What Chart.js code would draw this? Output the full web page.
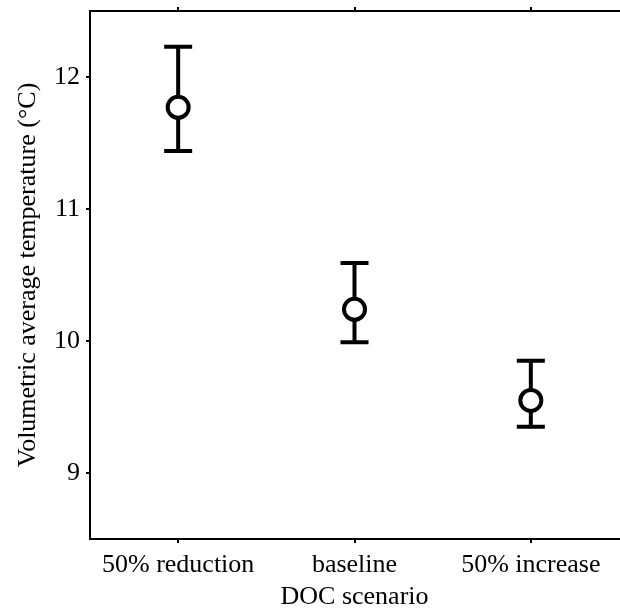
<!DOCTYPE html>
<html>
<head>
<meta charset="utf-8">
<script src="https://cdn.jsdelivr.net/npm/chart.js@4/dist/chart.umd.min.js"></script>
<style>
  html, body { margin: 0; padding: 0; background: #fff; }
  #wrap { width: 620px; height: 610px; }
</style>
</head>
<body>
<div id="wrap"><canvas id="tempChart"></canvas></div>
<script>
const scenarios = ['50% reduction', 'baseline', '50% increase'];
const meanTemp = [11.77, 10.24, 9.55];
const upperTemp = [12.23, 10.59, 9.85];
const lowerTemp = [11.44, 9.99, 9.35];
const yTicks = [9, 10, 11, 12];

const serif = "'Liberation Serif', 'DejaVu Serif', serif";

// draws the whiskers under the circles
const errorBars = {
  id: 'errorBars',
  beforeDatasetsDraw(chart) {
    const ctx = chart.ctx;
    const x = chart.scales.x;
    const y = chart.scales.y;
    ctx.save();
    ctx.strokeStyle = '#000';
    ctx.lineWidth = 4;
    for (let i = 0; i < scenarios.length; i++) {
      const px = x.getPixelForValue(i);
      const top = y.getPixelForValue(upperTemp[i]);
      const bot = y.getPixelForValue(lowerTemp[i]);
      ctx.beginPath();
      ctx.moveTo(px, top);
      ctx.lineTo(px, bot);
      ctx.moveTo(px - 14, top);
      ctx.lineTo(px + 14, top);
      ctx.moveTo(px - 14, bot);
      ctx.lineTo(px + 14, bot);
      ctx.stroke();
    }
    ctx.restore();
  }
};

// keep chart.js from adding label overflow padding
function noPad(s) {
  s.paddingLeft = 0; s.paddingRight = 0; s.paddingTop = 0; s.paddingBottom = 0;
}

new Chart(document.getElementById('tempChart'), {
  type: 'line',
  data: {
    labels: scenarios,
    datasets: [{
      data: meanTemp,
      showLine: false,
      pointStyle: 'circle',
      pointRadius: 10.5,
      pointBorderWidth: 4,
      pointBorderColor: '#000',
      pointBackgroundColor: '#fff'
    }]
  },
  options: {
    responsive: true,
    maintainAspectRatio: false,
    animation: false,
    layout: { autoPadding: false, padding: { left: 0, right: 1, top: 0, bottom: 0 } },
    plugins: { legend: { display: false }, tooltip: { enabled: false } },
    scales: {
      x: {
        type: 'category',
        position: 'bottom',
        offset: true,
        border: { display: true, color: '#000', width: 2 },
        grid: { display: true, drawOnChartArea: false, drawTicks: true, tickLength: 4, color: '#000', lineWidth: 2, offset: false },
        ticks: { color: '#000', font: { family: serif, size: 26 }, padding: 7, maxRotation: 0 },
        title: { display: true, text: 'DOC scenario', color: '#000', font: { family: serif, size: 26, lineHeight: 1.0 }, padding: { top: 0, bottom: 0 } },
        afterFit(s) { s.height = 71; noPad(s); }
      },
      x2: {
        type: 'category',
        position: 'top',
        labels: scenarios,
        offset: true,
        border: { display: true, color: '#000', width: 2 },
        grid: { display: true, drawOnChartArea: false, drawTicks: true, tickLength: 4, color: '#000', lineWidth: 2, offset: false },
        ticks: { display: false },
        afterFit(s) { s.height = 11; noPad(s); }
      },
      y: {
        min: 8.5,
        max: 12.5,
        afterBuildTicks(s) { s.ticks = yTicks.map(v => ({ value: v })); },
        border: { display: true, color: '#000', width: 2 },
        grid: { display: true, drawOnChartArea: false, drawTicks: true, tickLength: 4, color: '#000', lineWidth: 2 },
        ticks: { color: '#000', font: { family: serif, size: 26 }, padding: 6 },
        title: { display: true, text: 'Volumetric average temperature (°C)', color: '#000', font: { family: serif, size: 26, lineHeight: 1.0 }, padding: { top: 15, bottom: 0 } },
        afterFit(s) { s.width = 90; noPad(s); }
      }
    }
  },
  plugins: [errorBars]
});
</script>
</body>
</html>
